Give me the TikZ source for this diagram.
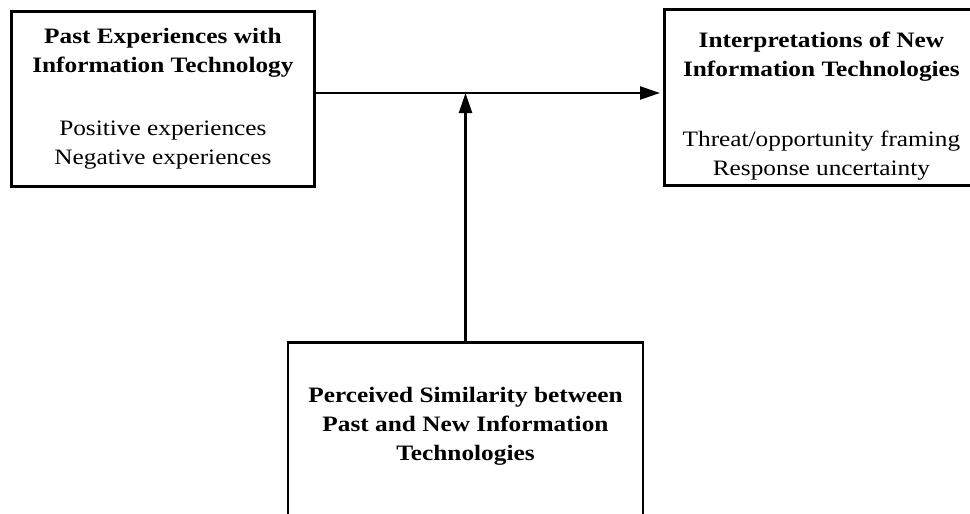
\documentclass[tikz,border=0pt]{standalone}
\usepackage{fontspec}
\setmainfont{Liberation Serif}[FakeStretch=1.15]
\usetikzlibrary{arrows.meta,positioning}

\tikzset{
  framebox/.style={draw,line width=2.8pt,align=center,inner sep=0pt,
    font=\fontsize{22}{29}\selectfont},
  flowline/.style={line width=2.4pt,-{Triangle[length=20pt,width=13pt]}}
}

\begin{document}
\begin{tikzpicture}[x=1pt,y=-1pt]
\clip (0,0) rectangle (970,514);
% boxes
\node[framebox,anchor=north west,minimum width=303pt,minimum height=175pt] (past) at (10,10)
  {\textbf{Past Experiences with}\\\textbf{Information Technology}\\[34pt]Positive experiences\\Negative experiences};
\node[framebox,anchor=north west,minimum width=314pt,minimum height=176pt] (interp) at (663,8)
  {\rule{0pt}{32pt}\textbf{Interpretations of New}\\\textbf{Information Technologies}\\[41pt]Threat/opportunity framing\\Response uncertainty};
\node[framebox,anchor=north,minimum width=355pt,minimum height=200pt] (simil) at (465.5,341)
  {\textbf{Perceived Similarity between}\\\textbf{Past and New Information}\\\textbf{Technologies}\\\strut};
% arrows
\coordinate (meet) at (465.5,93);
\draw[flowline,shorten >=3pt] (past.east |- meet) -- (interp.west |- meet);
\draw[flowline] (simil.north) -- (meet);
\end{tikzpicture}
\end{document}
